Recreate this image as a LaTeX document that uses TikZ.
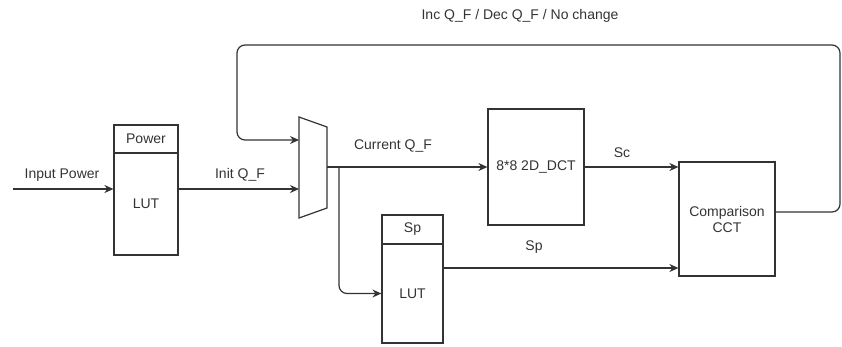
\documentclass[tikz,border=0pt]{standalone}
\usepackage{fontspec}
\setmainfont{Liberation Sans}
\usepackage{tikz}
\usetikzlibrary{positioning, arrows.meta}
\usepackage{xcolor}

\definecolor{ink}{HTML}{333333}

\begin{document}
\begin{tikzpicture}[x=1pt, y=-1pt,
        every node/.style={text=ink, font=\fontsize{14}{16}\selectfont},
        blk/.style={draw=ink, line width=1.2pt, inner sep=0pt},
        wire/.style={draw=ink, line width=1.2pt},
        arr/.style={wire, -{Stealth[length=9pt, width=8pt]}}]
        \useasboundingbox (0,0) rectangle (842,346);

        % Power LUT
        \node[blk, minimum width=64pt, minimum height=28pt] (pwrhead) at (146,139) {Power};
        \node[blk, minimum width=64pt, minimum height=102pt] (pwrlut) at (146,204) {LUT};

        % Multiplexer
        \coordinate (mtl) at (299,117);
        \coordinate (mtr) at (327,127);
        \coordinate (mbr) at (327,208);
        \coordinate (mbl) at (299,218);
        \draw[wire] (mtl)--(mtr)--(mbr)--(mbl)--cycle;
        \coordinate (min1) at (299,140);
        \coordinate (min2) at (299,189);
        \coordinate (mout) at (327,167);

        % DCT, Sp LUT and comparison
        \node[blk, minimum width=96pt, minimum height=116pt] (dct) at (536,167) {8*8 2D\_DCT};
        \node[blk, minimum width=61pt, minimum height=29pt] (sphead) at (412.5,229.5) {Sp};
        \node[blk, minimum width=61pt, minimum height=99pt] (splut) at (412.5,293.5) {LUT};
        \node[blk, minimum width=96pt, minimum height=114pt, align=center] (cmp) at (727,219) {Comparison\\CCT};

        % Free ends and bends
        \coordinate (pin) at (13,189);
        \coordinate (branch) at (339,167);
        \coordinate (spout) at (443,268);
        \coordinate (cmpout) at (775,212);

        % Forward path
        \draw[arr] (pin) -- (pin -| pwrlut.west);
        \draw[arr] (min2 -| pwrlut.east) -- (min2);
        \draw[arr] (mout) -- (dct.west);
        \draw[arr, rounded corners=8pt] (branch) |- (splut.west);
        \draw[arr] (dct.east) -- (dct.east -| cmp.west);
        \draw[arr] (spout) -- (spout -| cmp.west);

        % Feedback loop
        \draw[arr, rounded corners=8pt] (cmpout) -- (840,212) -- (840,45) -- (237,45) -- (237,140) -- (min1);

        % Labels
        \node (lblin) at (62,175) {Input Power};
        \node (lblinit) at (240,175) {Init Q\_F};
        \node (lblcur) at (393,146) {Current Q\_F};
        \node (lblsc) at (622,153) {Sc};
        \node (lblsp) at (534,247) {Sp};
        \node (lblfb) at (520,16) {Inc Q\_F / Dec Q\_F / No change};
    \end{tikzpicture}
\end{document}
